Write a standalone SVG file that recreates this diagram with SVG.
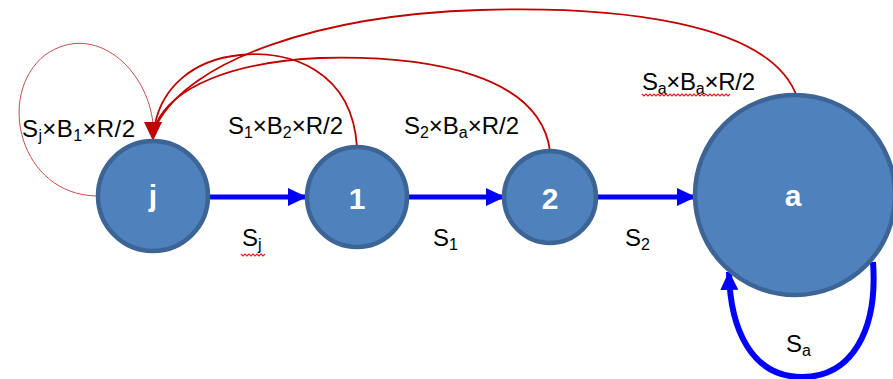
<svg xmlns="http://www.w3.org/2000/svg" width="893" height="379" viewBox="0 0 893 379">
<style>
.node{fill:#4F81BD;stroke:#3C6494;stroke-width:4.5}
.nl{font-family:"Liberation Sans",Arial,sans-serif;font-weight:bold;font-size:30px;fill:#fff;text-anchor:middle}
.lb{font-family:"Liberation Sans",Arial,sans-serif;font-size:24px;fill:#000}
.sub{font-size:16px}
.blue{fill:none;stroke:#0000FF;stroke-width:5}
.red{fill:none;stroke:#C00000;stroke-width:1.8}
.thin{fill:none;stroke:#C0504D;stroke-width:1}
.wave{fill:none;stroke:#E02020;stroke-width:1.2}
</style>
<defs>
<marker id="ab" markerUnits="userSpaceOnUse" markerWidth="20" markerHeight="20" viewBox="0 0 20 20" refX="18" refY="10" orient="auto">
<path d="M0,1 L19,10 L0,19 Z" fill="#0000FF"/>
</marker>
</defs>
<g id="connectors">
<path class="blue" d="M210,197 L306,197" marker-end="url(#ab)"/>
<path class="blue" d="M408,197 L504,197" marker-end="url(#ab)"/>
<path class="blue" d="M597,197 L695,197" marker-end="url(#ab)"/>
<path class="blue" style="stroke-width:6" d="M873,262 C878,330 852,377 802,377 C752,377 730,330 729,272" marker-end="url(#ab)"/>
<path class="thin" d="M97,196 C20,195 -5,95 45,55 C95,20 148,70 153,124"/>
<path class="red" d="M357,147 C352,70 290,50 240,55 C190,60 162,90 155,124"/>
<path class="red" d="M550,151 C540,75 430,55 320,58 C230,62 172,88 156,124"/>
<path class="red" d="M797,97 C770,20 610,6 480,10 C320,15 190,60 157,124"/>
<path d="M144,122 L162,122 L153,141 Z" fill="#C00000"/>
</g>
<g id="node-j">
<circle class="node" cx="153" cy="196" r="55"/>
<text class="nl" x="153" y="206">j</text>
</g>
<g id="node-1">
<circle class="node" cx="357" cy="197" r="50"/>
<text class="nl" x="357" y="209">1</text>
</g>
<g id="node-2">
<circle class="node" cx="550" cy="197" r="46"/>
<text class="nl" x="550" y="209">2</text>
</g>
<g id="node-a">
<circle class="node" cx="795" cy="195" r="100"/>
<text class="nl" x="793" y="206">a</text>
</g>
<g id="labels">
<text class="lb" x="22" y="137" textLength="113" lengthAdjust="spacing">S<tspan class="sub" dy="4">j</tspan><tspan dy="-4">×B</tspan><tspan class="sub" dy="4">1</tspan><tspan dy="-4">×R/2</tspan></text>
<text class="lb" x="228" y="134" textLength="115" lengthAdjust="spacing">S<tspan class="sub" dy="4">1</tspan><tspan dy="-4">×B</tspan><tspan class="sub" dy="4">2</tspan><tspan dy="-4">×R/2</tspan></text>
<text class="lb" x="404" y="134" textLength="115" lengthAdjust="spacing">S<tspan class="sub" dy="4">2</tspan><tspan dy="-4">×B</tspan><tspan class="sub" dy="4">a</tspan><tspan dy="-4">×R/2</tspan></text>
<text class="lb" x="642" y="90" textLength="113" lengthAdjust="spacing">S<tspan class="sub" dy="4">a</tspan><tspan dy="-4">×B</tspan><tspan class="sub" dy="4">a</tspan><tspan dy="-4">×R/2</tspan></text>
<text class="lb" x="242" y="246">S<tspan class="sub" dy="4">j</tspan></text>
<text class="lb" x="433" y="246">S<tspan class="sub" dy="4">1</tspan></text>
<text class="lb" x="625" y="246">S<tspan class="sub" dy="4">2</tspan></text>
<text class="lb" x="786" y="352">S<tspan class="sub" dy="4">a</tspan></text>
<path class="wave" d="M241,254 l2,2 l2,-2 l2,2 l2,-2 l2,2 l2,-2 l2,2 l2,-2 l2,2 l2,-2 l2,2 l2,-2"/>
<path class="wave" d="M642,94 l2,2 l2,-2 l2,2 l2,-2 l2,2 l2,-2 l2,2 l2,-2 l2,2 l2,-2 l2,2 l2,-2 l2,2 l2,-2 l2,2 l2,-2 l2,2 l2,-2 l2,2 l2,-2 l2,2 l2,-2 l2,2 l2,-2 l2,2 l2,-2 l2,2 l2,-2 l2,2 l2,-2 l2,2 l2,-2 l2,2 l2,-2 l2,2 l2,-2 l2,2 l2,-2 l2,2 l2,-2 l2,2 l2,-2 l2,2 l2,-2"/>
</g>
</svg>
